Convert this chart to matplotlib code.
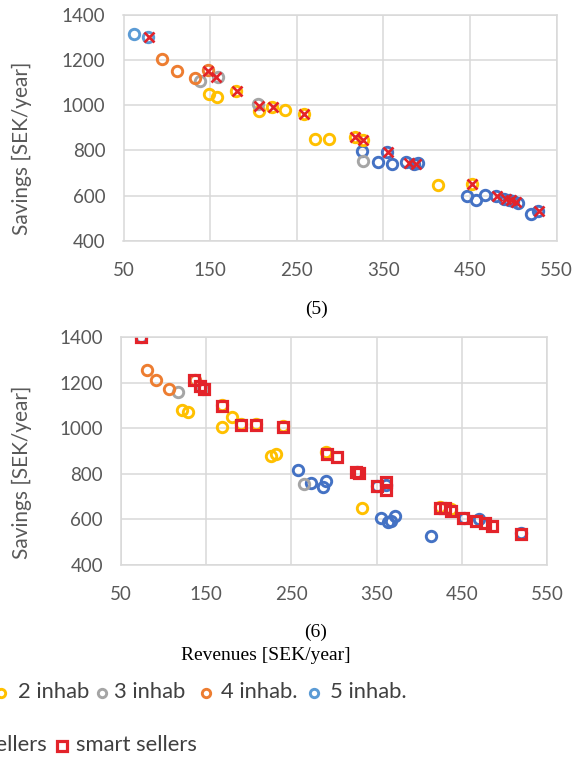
import matplotlib
matplotlib.use("Agg")
import matplotlib.pyplot as plt
from matplotlib.lines import Line2D

W, H, DPI = 583, 759, 100

# ---- colours ----
C_YELLOW = "#FFC000"
C_GREY = "#A5A5A5"
C_ORANGE = "#ED7D31"
C_LBLUE = "#5B9BD5"
C_DBLUE = "#4472C4"
C_RED = "#E3232A"
C_GRID = "#D9D9D9"
C_TICK = "#595959"
C_LEG = "#404040"

# ---- panel (5): revenues vs savings ----
p5_inh1_x = [325, 344, 354, 360, 376, 386, 390, 447, 457, 468, 480, 489, 495, 500, 505, 520, 529]
p5_inh1_y = [796, 748, 793, 741, 750, 742, 744, 597, 583, 605, 600, 584, 582, 576, 568, 518, 533]
p5_inh2_x = [149, 158, 180, 206, 222, 237, 258, 271, 287, 317, 327, 413, 452]
p5_inh2_y = [1048, 1037, 1064, 972, 992, 977, 962, 852, 852, 861, 846, 648, 650]
p5_inh3_x = [138, 159, 205, 326]
p5_inh3_y = [1106, 1124, 1003, 752]
p5_inh4_x = [94, 112, 132, 147]
p5_inh4_y = [1203, 1151, 1118, 1154]
p5_inh5_x = [62, 78]
p5_inh5_y = [1315, 1302]
p5_sell_x = [79, 147, 157, 181, 206, 223, 258, 317, 327, 355, 380, 388, 452, 481, 492, 498, 503, 530]
p5_sell_y = [1300, 1152, 1123, 1063, 997, 994, 962, 860, 845, 791, 745, 742, 650, 600, 585, 580, 571, 532]

# ---- panel (6): revenues vs savings ----
p6_inh1_x = [258, 273, 287, 291, 327, 350, 361, 355, 363, 367, 372, 414, 452, 470, 519]
p6_inh1_y = [817, 759, 740, 767, 806, 748, 752, 605, 587, 593, 614, 526, 606, 602, 540]
p6_inh2_x = [122, 129, 168, 180, 169, 191, 208, 240, 226, 232, 291, 333, 424, 437]
p6_inh2_y = [1082, 1073, 1102, 1048, 1004, 1018, 1020, 1010, 876, 886, 895, 650, 655, 645]
p6_inh3_x = [117, 146, 265]
p6_inh3_y = [1158, 1173, 756]
p6_inh4_x = [80, 91, 106, 137]
p6_inh4_y = [1257, 1210, 1170, 1210]
p6_inh5_x = [73]
p6_inh5_y = [1398]
p6_smart_x = [73, 136, 143, 147, 168, 191, 208, 240, 292, 303, 326, 329, 350, 361, 361, 424, 430, 437, 451, 467, 477, 485, 519]
p6_smart_y = [1398, 1213, 1185, 1170, 1098, 1012, 1015, 1006, 889, 872, 810, 803, 748, 765, 728, 650, 648, 638, 605, 593, 583, 573, 538]

x_ticks = [50, 150, 250, 350, 450, 550]
y_ticks = [400, 600, 800, 1000, 1200, 1400]
y_label = "Savings [SEK/year]"
x_label = "Revenues [SEK/year]"
legend_inhab = ["2 inhab", "3 inhab", "4 inhab.", "5 inhab."]

TICK_FONT = "Lato"
SERIF = "Liberation Serif"

fig = plt.figure(figsize=(W / DPI, H / DPI), dpi=DPI)
fig.patch.set_facecolor("white")


def fx(px):
    return px / W


def fy(py):
    return 1 - py / H


def make_axes(left, top, right, bottom):
    ax = fig.add_axes([fx(left), fy(bottom), (right - left) / W, (bottom - top) / H])
    ax.set_xlim(50, 550)
    ax.set_ylim(400, 1400)
    ax.set_xticks(x_ticks)
    ax.set_yticks(y_ticks)
    ax.grid(True, color=C_GRID, linewidth=1.1)
    ax.set_axisbelow(True)
    for s in ax.spines.values():
        s.set_color(C_GRID)
        s.set_linewidth(1.1)
    ax.tick_params(axis="both", length=0, colors=C_TICK, labelsize=13.5)
    ax.tick_params(axis="y", pad=13)
    ax.tick_params(axis="x", pad=15)
    for lab in ax.get_xticklabels() + ax.get_yticklabels():
        lab.set_fontfamily(TICK_FONT)
    return ax


circle_kw = dict(linestyle="none", marker="o", markersize=7.5, markerfacecolor="none", markeredgewidth=2.1)


def draw_circles(ax, xs, ys, color):
    ax.plot(xs, ys, markeredgecolor=color, **circle_kw)


# panel (5)
ax5 = make_axes(123.5, 14.6, 556.5, 241)
draw_circles(ax5, p5_inh1_x, p5_inh1_y, C_DBLUE)
draw_circles(ax5, p5_inh2_x, p5_inh2_y, C_YELLOW)
draw_circles(ax5, p5_inh3_x, p5_inh3_y, C_GREY)
draw_circles(ax5, p5_inh4_x, p5_inh4_y, C_ORANGE)
draw_circles(ax5, p5_inh5_x, p5_inh5_y, C_LBLUE)
ax5.plot(p5_sell_x, p5_sell_y, linestyle="none", marker="x", markersize=7.5,
         markeredgecolor=C_RED, markeredgewidth=1.9)

# panel (6)
ax6 = make_axes(121, 337, 547, 565)
draw_circles(ax6, p6_inh1_x, p6_inh1_y, C_DBLUE)
draw_circles(ax6, p6_inh2_x, p6_inh2_y, C_YELLOW)
draw_circles(ax6, p6_inh3_x, p6_inh3_y, C_GREY)
draw_circles(ax6, p6_inh4_x, p6_inh4_y, C_ORANGE)
draw_circles(ax6, p6_inh5_x, p6_inh5_y, C_LBLUE)
ax6.plot(p6_smart_x, p6_smart_y, linestyle="none", marker="s", markersize=7.2,
         markerfacecolor="none", markeredgecolor=C_RED, markeredgewidth=2.3)

# axis titles and captions
fig.text(fx(22), fy(148), y_label, rotation=90, ha="center", va="center",
         fontsize=15, color=C_TICK, family=TICK_FONT)
fig.text(fx(22), fy(472), y_label, rotation=90, ha="center", va="center",
         fontsize=15, color=C_TICK, family=TICK_FONT)
fig.text(fx(316), fy(309), "(5)", ha="center", va="center", fontsize=14, family=SERIF, color="black")
fig.text(fx(316), fy(632), "(6)", ha="center", va="center", fontsize=14, family=SERIF, color="black")
fig.text(fx(266), fy(655), x_label, ha="center", va="center", fontsize=14, family=SERIF, color="black")

# legend rows
ROW1, ROW2 = 692, 745
LEG_SIZE = 15.8


def leg_marker(xc, yc, marker, color, ms, mew):
    fig.add_artist(Line2D([fx(xc)], [fy(yc)], transform=fig.transFigure, linestyle="none",
                          marker=marker, markersize=ms, markerfacecolor="none",
                          markeredgecolor=color, markeredgewidth=mew))


def leg_text(x, y, s, ha="left"):
    fig.text(fx(x), fy(y), s, ha=ha, va="center", fontsize=LEG_SIZE, color=C_LEG, family=TICK_FONT)


leg_colors = [C_YELLOW, C_GREY, C_ORANGE, C_LBLUE]
marker_x = [1, 102, 206, 314]
text_x = [18, 114, 221, 330]
for lab, col, mx, tx in zip(legend_inhab, leg_colors, marker_x, text_x):
    leg_marker(mx, ROW1 + 1, "o", col, 6, 2.1)
    leg_text(tx, ROW1, lab)

leg_text(47, ROW2, "sellers", ha="right")
leg_marker(62, ROW2 + 1, "s", C_RED, 7.5, 2.3)
leg_text(76, ROW2, "smart sellers")

fig.savefig("out.png", dpi=DPI)
